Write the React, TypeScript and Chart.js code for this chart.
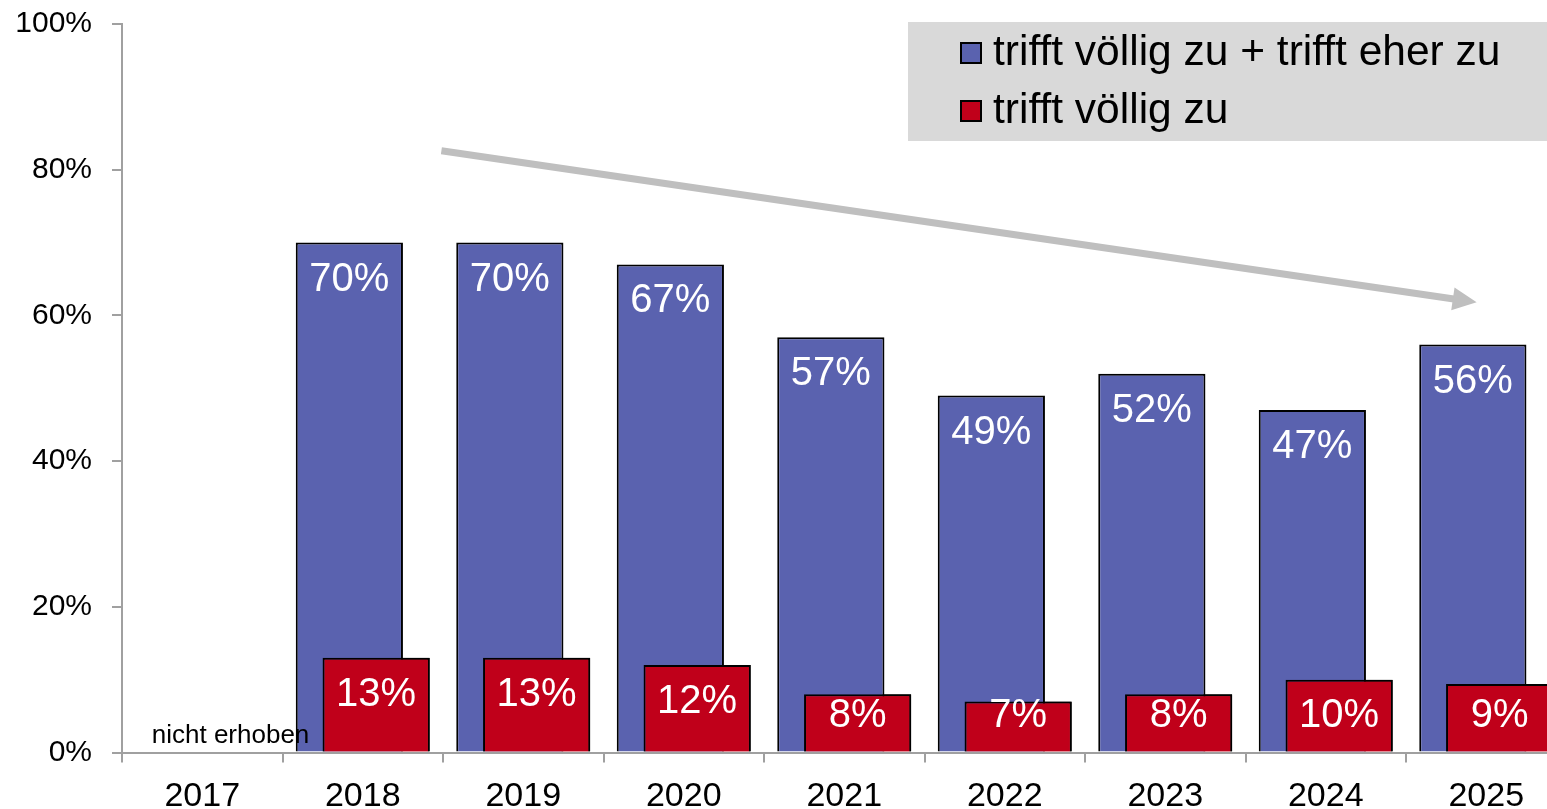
import React, { useEffect, useRef } from "react";
import { Chart, registerables } from "chart.js";

Chart.register(...registerables);

const FONT = "'Liberation Sans', Arial, Helvetica, sans-serif";

const categories = ["2017", "2018", "2019", "2020", "2021", "2022", "2023", "2024", "2025"];
const seriesLabels = ["trifft völlig zu + trifft eher zu", "trifft völlig zu"];
const totalAgree = [null, 70, 70, 67, 57, 49, 52, 47, 56];
const fullyAgree = [null, 13, 13, 12, 8, 7, 8, 10, 9.4];
const yTicks = [0, 20, 40, 60, 80, 100];
const noteText = "nicht erhoben";
const noteIndex = 0;
// trend arrow in data space: [category index, percent]
const arrowStart = [1.49, 82.6];
const arrowEnd = [7.94, 61.8];

const BLUE = "#5A62AF";
const RED = "#C0001A";
const AXIS = "#a0a0a0";

const overlayPlugin = {
  id: "overlay",
  afterDatasetsDraw(chart: any) {
    const ctx = chart.ctx;
    // draw the red series on top of the blue series
    const redMeta = chart.getDatasetMeta(1);
    const redValues = chart.data.datasets[1].data as (number | null)[];
    redMeta.data.forEach((el: any, i: number) => {
      if (redValues[i] !== null && redValues[i] !== undefined) el.draw(ctx);
    });
    // value labels
    ctx.save();
    ctx.font = `40px ${FONT}`;
    ctx.fillStyle = "#ffffff";
    ctx.textAlign = "center";
    ctx.textBaseline = "middle";
    [0, 1].forEach((di) => {
      const meta = chart.getDatasetMeta(di);
      const values = chart.data.datasets[di].data as (number | null)[];
      meta.data.forEach((el: any, i: number) => {
        const v = values[i];
        if (v === null || v === undefined) return;
        const y = Math.min(el.y + 37, el.base - 36);
        ctx.fillText(Math.round(v) + "%", el.x, y);
      });
    });
    ctx.restore();
  },
  afterDraw(chart: any) {
    const ctx = chart.ctx;
    const xs = chart.scales.x;
    const ys = chart.scales.y;
    // note
    ctx.save();
    ctx.font = `26px ${FONT}`;
    ctx.fillStyle = "#000";
    ctx.textAlign = "left";
    ctx.textBaseline = "alphabetic";
    ctx.fillText(noteText, xs.getPixelForValue(noteIndex) - 50.5, ys.getPixelForValue(0) - 9.5);
    ctx.restore();

    // arrow
    const x1 = xs.getPixelForValue(arrowStart[0]);
    const y1 = ys.getPixelForValue(arrowStart[1]);
    const x2 = xs.getPixelForValue(arrowEnd[0]);
    const y2 = ys.getPixelForValue(arrowEnd[1]);
    const ang = Math.atan2(y2 - y1, x2 - x1);
    const headLen = 24;
    const headHalf = 11.5;
    const bx = x2 - headLen * Math.cos(ang);
    const by = y2 - headLen * Math.sin(ang);
    ctx.save();
    ctx.strokeStyle = "#bfbfbf";
    ctx.fillStyle = "#bfbfbf";
    ctx.lineWidth = 7;
    ctx.lineCap = "butt";
    ctx.beginPath();
    ctx.moveTo(x1, y1);
    ctx.lineTo(bx + Math.cos(ang), by + Math.sin(ang));
    ctx.stroke();
    ctx.beginPath();
    ctx.moveTo(x2, y2);
    ctx.lineTo(bx - headHalf * Math.sin(ang), by + headHalf * Math.cos(ang));
    ctx.lineTo(bx + headHalf * Math.sin(ang), by - headHalf * Math.cos(ang));
    ctx.closePath();
    ctx.fill();
    ctx.restore();

    // legend
    ctx.save();
    ctx.fillStyle = "#d9d9d9";
    ctx.fillRect(908, 22, chart.width - 908, 119);
    ctx.font = `42.5px ${FONT}`;
    ctx.textAlign = "left";
    ctx.textBaseline = "middle";
    chart.data.datasets.forEach((ds: any, i: number) => {
      const top = 42 + i * 58;
      ctx.fillStyle = ds.backgroundColor;
      ctx.fillRect(960, top, 22, 22);
      ctx.strokeStyle = "#000";
      ctx.lineWidth = 2;
      ctx.strokeRect(961, top + 1, 20, 20);
      ctx.fillStyle = "#000";
      ctx.fillText(ds.label, 993, top + 11);
    });
    ctx.restore();
  },
};

export default function App() {
  const ref = useRef<HTMLCanvasElement>(null);
  useEffect(() => {
    const canvas = ref.current!;
    const chart = new Chart(canvas, {
      type: "bar",
      data: {
        labels: categories,
        datasets: [
          {
            label: seriesLabels[0],
            data: totalAgree,
            backgroundColor: BLUE,
            borderColor: "#000",
            borderWidth: 2,
            borderSkipped: "start",
            categoryPercentage: 0.334,
            barPercentage: 4.0,
          },
          {
            label: seriesLabels[1],
            data: fullyAgree,
            backgroundColor: RED,
            borderColor: "#000",
            borderWidth: 2,
            borderSkipped: "start",
            categoryPercentage: 0.334,
            barPercentage: 4.0,
          },
        ],
      },
      options: {
        animation: false,
        responsive: false,
        devicePixelRatio: 1,
        layout: { padding: { top: 24, right: 13.5, bottom: 0, left: 0 } },
        plugins: {
          legend: { display: false },
          tooltip: { enabled: false },
        },
        scales: {
          x: {
            offset: true,
            z: 1,
            grid: {
              display: true,
              offset: true,
              drawOnChartArea: false,
              drawTicks: true,
              tickLength: 10,
              color: AXIS,
              lineWidth: 2,
            },
            border: { display: true, color: AXIS, width: 2 },
            ticks: {
              font: { family: FONT, size: 34 },
              color: "#000",
              padding: 14,
              maxRotation: 0,
              autoSkip: false,
            },
            afterFit: (s: any) => {
              s.height = 56.5;
            },
          },
          y: {
            min: 0,
            max: 100,
            afterBuildTicks: (s: any) => {
              s.ticks = yTicks.map((v) => ({ value: v }));
            },
            grid: {
              display: true,
              drawOnChartArea: false,
              drawTicks: true,
              tickLength: 10,
              color: AXIS,
              lineWidth: 2,
            },
            border: { display: true, color: AXIS, width: 2 },
            ticks: {
              font: { family: FONT, size: 30 },
              color: "#000",
              padding: 20,
              callback: (v: any) => v + "%",
            },
            afterFit: (s: any) => {
              s.width = 122;
              s.paddingTop = 0;
              s.paddingBottom = 0;
            },
          },
        },
      },
      plugins: [overlayPlugin],
    });
    return () => chart.destroy();
  }, []);
  return (
    <div
      style={{
        position: "fixed",
        left: 0,
        top: 0,
        width: 1547,
        height: 809,
        overflow: "hidden",
        background: "#fff",
      }}
    >
      <canvas ref={ref} width={1580} height={809} style={{ display: "block", width: 1580, height: 809 }} />
    </div>
  );
}
